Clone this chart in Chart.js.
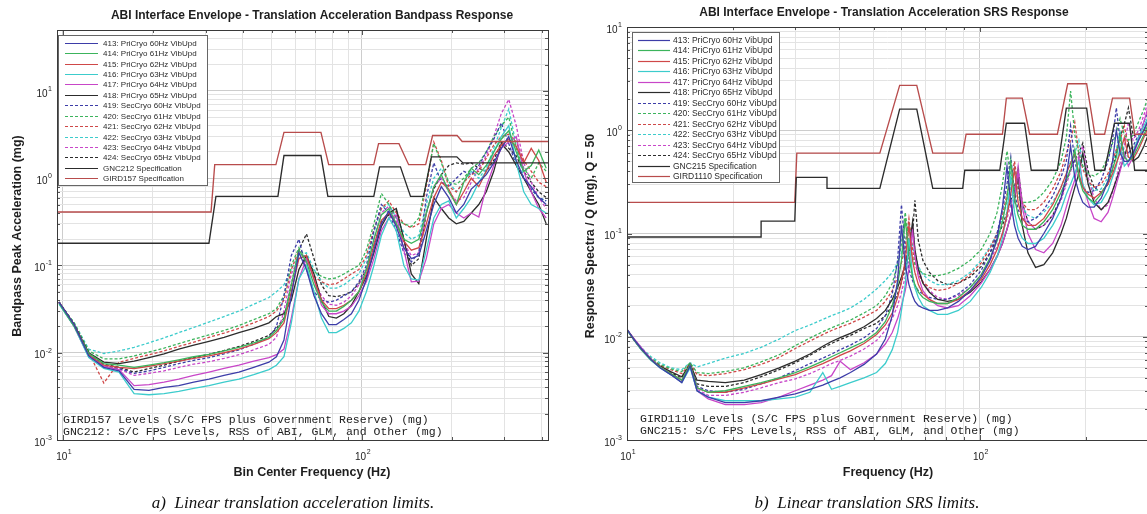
<!DOCTYPE html>
<html>
<head>
<meta charset="utf-8">
<script src="https://cdn.jsdelivr.net/npm/chart.js@4.4.1/dist/chart.umd.min.js"></script>
<style>
  html, body { margin: 0; padding: 0; background: #fff; overflow: hidden; width: 1147px; height: 514px; }
  #wrap { position: relative; width: 1147px; height: 514px; overflow: hidden; background: #fff; }
  canvas { position: absolute; top: 0; }
  #cA { left: 0; }
  #cB { left: 570px; }
  .cap { position: absolute; transform: translate(-50%, -50%); font-family: "Liberation Serif", "Times New Roman", serif;
         font-style: italic; font-size: 17px; color: #111; white-space: pre; }
</style>
</head>
<body>
<div id="wrap">
  <canvas id="cA" width="560" height="514"></canvas>
  <canvas id="cB" width="600" height="514"></canvas>
  <div class="cap" style="left:293px; top:503px;">a)  Linear translation acceleration limits.</div>
  <div class="cap" style="left:867px; top:503px;">b)  Linear translation SRS limits.</div>
</div>
<script>
// ---------- series names ----------
const seriesNames = [
  '413: PriCryo 60Hz VibUpd', '414: PriCryo 61Hz VibUpd', '415: PriCryo 62Hz VibUpd',
  '416: PriCryo 63Hz VibUpd', '417: PriCryo 64Hz VibUpd', '418: PriCryo 65Hz VibUpd',
  '419: SecCryo 60Hz VibUpd', '420: SecCryo 61Hz VibUpd', '421: SecCryo 62Hz VibUpd',
  '422: SecCryo 63Hz VibUpd', '423: SecCryo 64Hz VibUpd', '424: SecCryo 65Hz VibUpd'
];

// ---------- bandpass response (mg) at bin center frequencies (Hz) ----------
const freqBandpass = [9.7, 10.9, 12.2, 13.7, 15.4, 17.3, 19.4, 21.8, 24.4, 27.4, 30.8, 34.6, 38.8, 43.5, 48.9,
  51.8, 54.9, 58.1, 61.6, 65.3, 69.2, 73.3, 77.6, 82.2, 87.1, 92.3, 97.8, 103.6, 109.8, 116.3, 123.2, 130.5,
  138.3, 146.5, 155.2, 164.4, 174.2, 184.6, 195.5, 207.2, 219.5, 232.5, 246.4, 261.0, 276.5, 293.0, 310.4,
  328.9, 348.4, 369.1, 391.1, 414.3];

const bp413 = [0.038, 0.021, 0.0092, 0.0068, 0.0062, 0.0038, 0.0037, 0.004, 0.0042, 0.0046,
  0.005, 0.0055, 0.006, 0.0068, 0.0078, 0.009, 0.014, 0.045, 0.14, 0.09,
  0.045, 0.028, 0.021, 0.021, 0.024, 0.028, 0.04, 0.07, 0.15, 0.3,
  0.42, 0.28, 0.16, 0.12, 0.13, 0.25, 0.5, 0.8, 0.6, 0.4,
  0.5, 0.75, 0.9, 1.1, 1.5, 2.2, 3.0, 1.6, 1.0, 0.8, 0.6, 0.5];
const bp414 = [0.037, 0.02, 0.0098, 0.0075, 0.0072, 0.0068, 0.0072, 0.0077, 0.0083, 0.009,
  0.0096, 0.0105, 0.0115, 0.013, 0.015, 0.018, 0.024, 0.06, 0.15, 0.11,
  0.06, 0.038, 0.03, 0.03, 0.034, 0.04, 0.05, 0.09, 0.2, 0.38,
  0.45, 0.3, 0.2, 0.18, 0.2, 0.4, 0.8, 1.1, 0.7, 0.5,
  0.9, 1.3, 1.1, 1.4, 2.0, 2.8, 3.5, 2.0, 1.2, 1.4, 2.1, 1.3];
const bp415 = [0.038, 0.021, 0.0095, 0.0072, 0.0068, 0.0066, 0.007, 0.0075, 0.008, 0.0086,
  0.0092, 0.01, 0.011, 0.0125, 0.0145, 0.017, 0.022, 0.05, 0.12, 0.13,
  0.07, 0.04, 0.032, 0.032, 0.035, 0.04, 0.05, 0.08, 0.17, 0.33,
  0.4, 0.3, 0.19, 0.15, 0.16, 0.3, 0.6, 0.9, 0.75, 0.5,
  0.7, 1.0, 0.8, 1.2, 1.8, 2.4, 2.8, 2.3, 1.5, 2.2, 1.6, 0.9];
const bp416 = [0.036, 0.02, 0.0088, 0.0066, 0.006, 0.0034, 0.0033, 0.0034, 0.0036, 0.0039,
  0.0042, 0.0046, 0.005, 0.0056, 0.0064, 0.0072, 0.009, 0.022, 0.07, 0.1,
  0.05, 0.025, 0.017, 0.017, 0.019, 0.022, 0.03, 0.05, 0.1, 0.22,
  0.35, 0.25, 0.1, 0.07, 0.068, 0.15, 0.35, 0.5, 0.55, 0.35,
  0.45, 0.6, 0.9, 1.2, 2.0, 3.0, 4.0, 1.5, 0.7, 0.5, 0.45, 0.4];
const bp417 = [0.037, 0.02, 0.009, 0.007, 0.0064, 0.0042, 0.0043, 0.0046, 0.005, 0.0055,
  0.006, 0.0066, 0.0072, 0.008, 0.0088, 0.0095, 0.011, 0.025, 0.07, 0.12,
  0.07, 0.035, 0.028, 0.028, 0.03, 0.034, 0.045, 0.065, 0.12, 0.25,
  0.35, 0.38, 0.15, 0.065, 0.066, 0.12, 0.3, 0.45, 0.5, 0.4,
  0.35, 0.4, 0.36, 0.8, 1.4, 2.2, 2.6, 3.0, 1.2, 0.7, 0.45, 0.35];
const bp418 = [0.038, 0.021, 0.01, 0.0078, 0.0075, 0.008, 0.0088, 0.0097, 0.011, 0.0122,
  0.0135, 0.015, 0.017, 0.019, 0.022, 0.026, 0.028, 0.04, 0.09, 0.13,
  0.08, 0.04, 0.026, 0.025, 0.028, 0.035, 0.05, 0.075, 0.14, 0.28,
  0.4, 0.45, 0.2, 0.08, 0.062, 0.2, 0.6, 0.45, 0.35, 0.3,
  0.32, 0.4, 0.5, 0.7, 1.2, 2.5, 2.0, 1.4, 1.0, 0.7, 0.5, 0.3];
const bp419 = [0.038, 0.021, 0.0095, 0.0072, 0.0066, 0.0058, 0.0062, 0.0068, 0.0075, 0.0082,
  0.0088, 0.0097, 0.0108, 0.0125, 0.015, 0.02, 0.045, 0.13, 0.2, 0.09,
  0.05, 0.04, 0.038, 0.04, 0.045, 0.05, 0.065, 0.1, 0.25, 0.5,
  0.4, 0.25, 0.14, 0.11, 0.14, 0.6, 1.5, 0.9, 0.8, 1.0,
  1.2, 1.1, 1.4, 2.0, 2.8, 4.3, 2.5, 1.4, 1.0, 0.75, 0.6, 0.55];
const bp420 = [0.038, 0.022, 0.0105, 0.0085, 0.0085, 0.0092, 0.0102, 0.0113, 0.0127, 0.0143,
  0.016, 0.018, 0.0205, 0.024, 0.028, 0.032, 0.045, 0.1, 0.16, 0.12,
  0.085, 0.075, 0.07, 0.072, 0.08, 0.09, 0.1, 0.15, 0.3, 0.67,
  0.5, 0.35, 0.3, 0.28, 0.35, 0.9, 2.5, 1.5, 0.9, 0.85,
  1.0, 1.3, 1.5, 2.0, 3.0, 4.0, 5.0, 2.2, 1.3, 1.0, 1.5, 1.2];
const bp421 = [0.038, 0.021, 0.01, 0.0045, 0.0078, 0.0086, 0.0095, 0.0105, 0.0118, 0.0132,
  0.015, 0.0168, 0.019, 0.022, 0.026, 0.03, 0.04, 0.09, 0.15, 0.11,
  0.075, 0.065, 0.06, 0.062, 0.07, 0.08, 0.09, 0.13, 0.26, 0.45,
  0.55, 0.4, 0.3, 0.27, 0.3, 0.8, 2.6, 1.6, 0.8, 0.7,
  0.9, 1.1, 1.2, 1.7, 2.4, 3.0, 3.2, 2.6, 1.6, 1.2, 0.9, 0.8];
const bp422 = [0.038, 0.022, 0.011, 0.0098, 0.0105, 0.0115, 0.013, 0.0148, 0.017, 0.0195,
  0.0225, 0.026, 0.03, 0.036, 0.043, 0.05, 0.06, 0.09, 0.13, 0.14,
  0.09, 0.065, 0.055, 0.055, 0.06, 0.07, 0.08, 0.12, 0.24, 0.45,
  0.5, 0.35, 0.24, 0.2, 0.22, 0.5, 1.0, 1.3, 0.9, 0.7,
  0.9, 1.2, 1.0, 1.3, 2.2, 3.8, 6.2, 2.4, 1.0, 0.75, 0.6, 0.55];
const bp423 = [0.037, 0.02, 0.0092, 0.007, 0.0065, 0.0055, 0.0058, 0.0062, 0.0068, 0.0074,
  0.0079, 0.0086, 0.0095, 0.0108, 0.0125, 0.015, 0.03, 0.08, 0.12, 0.13,
  0.07, 0.045, 0.036, 0.035, 0.038, 0.045, 0.06, 0.09, 0.2, 0.4,
  0.48, 0.32, 0.18, 0.13, 0.14, 0.4, 0.8, 1.0, 0.7, 0.55,
  0.6, 0.9, 1.3, 1.8, 3.0, 5.5, 8.0, 4.0, 1.5, 0.9, 0.6, 0.45];
const bp424 = [0.038, 0.021, 0.0097, 0.0074, 0.0068, 0.006, 0.0066, 0.0072, 0.008, 0.0088,
  0.0096, 0.0106, 0.0118, 0.0135, 0.0158, 0.019, 0.025, 0.06, 0.15, 0.23,
  0.12, 0.06, 0.045, 0.044, 0.046, 0.05, 0.062, 0.09, 0.17, 0.32,
  0.38, 0.43, 0.2, 0.1, 0.12, 0.4, 0.75, 1.1, 1.4, 1.5,
  1.45, 1.5, 1.3, 1.2, 1.6, 2.6, 2.2, 1.8, 1.2, 0.9, 0.7, 0.6];

// bandpass specification envelopes (Hz, mg)
const gnc212Freq = [9.55, 30.8, 32.5, 52.4, 54.9, 73.0, 77.0, 109.7, 114.7, 134.7, 145.6, 161, 171, 208, 218, 420];
const gnc212Level = [0.18, 0.18, 0.62, 0.62, 1.82, 1.82, 0.62, 0.62, 1.35, 1.35, 0.62, 0.62, 1.76, 1.76, 1.5, 1.5];
const gird157Freq = [9.55, 31.3, 32.2, 51.6, 54.9, 73.0, 77.5, 109.7, 113.8, 133.2, 143.5, 163.6, 172.6, 208.5, 216.8, 420];
const gird157Level = [0.41, 0.41, 1.43, 1.43, 3.35, 3.35, 1.43, 1.43, 2.49, 2.49, 1.43, 1.43, 3.09, 3.09, 2.64, 2.64];

// ---------- shock response spectra / Q (mg), Q = 50 ----------
const freqSrs = [10, 10.5, 11, 11.7, 12.4, 13.3, 14.3, 15.1, 15.8, 17,
  19, 21.5, 24, 27, 30, 33, 35.9, 38, 40.2, 43,
  47, 51, 54, 56.5, 58.5, 60, 61.5, 63, 64.5, 65.5,
  67, 69, 72, 76, 81, 87, 94, 101, 107, 112,
  116, 119.5, 122.5, 125.5, 128.5, 132, 137, 144, 152, 161,
  170, 176, 181, 186, 191, 196, 203, 211, 221, 231,
  238, 244, 250, 257, 264, 272, 282, 292, 302];

const srs413 = [0.0118, 0.0093, 0.0076, 0.006, 0.005, 0.0043, 0.0036, 0.0052, 0.003, 0.0026,
  0.0023, 0.0023, 0.0024, 0.0026, 0.0028, 0.0031, 0.0034, 0.0037, 0.004, 0.0045,
  0.0054, 0.0068, 0.0095, 0.016, 0.035, 0.12, 0.05, 0.032, 0.025, 0.022,
  0.02, 0.019, 0.018, 0.018, 0.019, 0.022, 0.028, 0.038, 0.055, 0.09,
  0.18, 0.45, 0.2, 0.12, 0.09, 0.075, 0.07, 0.075, 0.1, 0.14,
  0.22, 0.35, 0.7, 0.35, 0.25, 0.2, 0.18, 0.18, 0.22, 0.32,
  0.5, 1.0, 0.6, 0.5, 0.5, 0.6, 0.8, 1.0, 1.3];
const srs414 = [0.0117, 0.0092, 0.0075, 0.006, 0.0051, 0.0044, 0.0038, 0.0054, 0.0032, 0.0029,
  0.003, 0.0033, 0.0036, 0.004, 0.0045, 0.0051, 0.0058, 0.0064, 0.007, 0.0078,
  0.009, 0.011, 0.014, 0.02, 0.032, 0.055, 0.14, 0.06, 0.038, 0.032,
  0.027, 0.024, 0.022, 0.021, 0.021, 0.024, 0.03, 0.04, 0.058, 0.085,
  0.13, 0.22, 0.5, 0.22, 0.15, 0.12, 0.11, 0.11, 0.13, 0.17,
  0.25, 0.33, 0.42, 0.65, 0.35, 0.26, 0.22, 0.2, 0.24, 0.32,
  0.42, 0.55, 0.9, 0.55, 0.5, 0.55, 0.7, 0.9, 1.2];
const srs415 = [0.0117, 0.0092, 0.0075, 0.006, 0.0051, 0.0044, 0.0038, 0.0053, 0.0032, 0.0029,
  0.0029, 0.0032, 0.0035, 0.0039, 0.0043, 0.0049, 0.0055, 0.006, 0.0066, 0.0073,
  0.0086, 0.0105, 0.013, 0.017, 0.024, 0.034, 0.055, 0.12, 0.055, 0.042,
  0.032, 0.026, 0.023, 0.021, 0.021, 0.023, 0.028, 0.036, 0.05, 0.07,
  0.1, 0.15, 0.24, 0.42, 0.2, 0.14, 0.12, 0.12, 0.14, 0.19,
  0.28, 0.38, 0.48, 0.6, 0.38, 0.28, 0.24, 0.22, 0.25, 0.3,
  0.38, 0.48, 0.6, 0.85, 0.55, 0.52, 0.65, 0.85, 1.1];
const srs416 = [0.0116, 0.0091, 0.0074, 0.0059, 0.005, 0.0043, 0.0036, 0.005, 0.003, 0.0026,
  0.0024, 0.0024, 0.0024, 0.0025, 0.0026, 0.0029, 0.0045, 0.0031, 0.0033, 0.0036,
  0.004, 0.0045, 0.0055, 0.0075, 0.011, 0.018, 0.032, 0.09, 0.04, 0.03,
  0.024, 0.02, 0.018, 0.0165, 0.0165, 0.018, 0.022, 0.03, 0.042, 0.06,
  0.09, 0.16, 0.35, 0.16, 0.11, 0.09, 0.08, 0.08, 0.09, 0.12,
  0.17, 0.24, 0.3, 0.38, 0.5, 0.3, 0.22, 0.19, 0.2, 0.26,
  0.35, 0.45, 0.7, 0.45, 0.5, 0.62, 0.85, 1.1, 1.4];
const srs417 = [0.0118, 0.0095, 0.0078, 0.0061, 0.0051, 0.0043, 0.0036, 0.0052, 0.003, 0.0025,
  0.0022, 0.0022, 0.0023, 0.0026, 0.003, 0.0034, 0.0038, 0.0042, 0.0058, 0.0048,
  0.0056, 0.0068, 0.0085, 0.011, 0.015, 0.02, 0.028, 0.045, 0.11, 0.06,
  0.038, 0.028, 0.023, 0.02, 0.019, 0.02, 0.025, 0.033, 0.045, 0.06,
  0.08, 0.11, 0.15, 0.22, 0.4, 0.18, 0.1, 0.07, 0.065, 0.08,
  0.12, 0.18, 0.25, 0.33, 0.55, 0.3, 0.2, 0.14, 0.13, 0.16,
  0.22, 0.3, 0.4, 0.6, 0.45, 0.55, 0.8, 1.2, 1.8];
const srs418 = [0.0117, 0.0092, 0.0075, 0.006, 0.0052, 0.0046, 0.0041, 0.0054, 0.0038, 0.0037,
  0.0036, 0.0038, 0.0043, 0.005, 0.0058, 0.0068, 0.0081, 0.009, 0.0098, 0.0108,
  0.0125, 0.015, 0.018, 0.023, 0.03, 0.038, 0.05, 0.07, 0.13, 0.07,
  0.045, 0.033, 0.027, 0.023, 0.022, 0.023, 0.027, 0.034, 0.045, 0.06,
  0.08, 0.11, 0.15, 0.21, 0.38, 0.12, 0.065, 0.047, 0.05, 0.065,
  0.1, 0.14, 0.2, 0.28, 0.38, 0.6, 0.3, 0.2, 0.17, 0.2,
  0.26, 0.33, 0.42, 0.55, 0.75, 0.5, 0.55, 0.7, 0.95];
const srs419 = [0.0117, 0.0092, 0.0075, 0.006, 0.0051, 0.0044, 0.0038, 0.0054, 0.0033, 0.003,
  0.0029, 0.0031, 0.0035, 0.004, 0.0047, 0.0055, 0.0062, 0.0068, 0.0075, 0.0083,
  0.0098, 0.012, 0.016, 0.026, 0.055, 0.19, 0.07, 0.045, 0.035, 0.031,
  0.028, 0.026, 0.024, 0.023, 0.023, 0.026, 0.032, 0.044, 0.065, 0.1,
  0.17, 0.3, 0.55, 0.25, 0.17, 0.14, 0.13, 0.14, 0.17, 0.23,
  0.35, 0.5, 1.1, 0.5, 0.35, 0.28, 0.25, 0.26, 0.33, 0.5,
  0.8, 1.65, 0.8, 0.6, 0.6, 0.7, 0.9, 1.2, 1.6];
const srs420 = [0.0117, 0.0093, 0.0076, 0.0062, 0.0054, 0.0049, 0.0046, 0.0056, 0.0045, 0.0044,
  0.0046, 0.005, 0.0057, 0.0067, 0.0082, 0.0097, 0.0112, 0.0122, 0.0132, 0.0145,
  0.017, 0.02, 0.025, 0.033, 0.05, 0.08, 0.16, 0.08, 0.058, 0.05,
  0.045, 0.041, 0.039, 0.039, 0.041, 0.046, 0.055, 0.07, 0.1, 0.16,
  0.3, 0.63, 0.35, 0.26, 0.22, 0.2, 0.2, 0.21, 0.25, 0.33,
  0.5, 0.85, 2.4, 0.9, 0.6, 0.45, 0.38, 0.36, 0.4, 0.55,
  0.75, 0.95, 1.3, 0.9, 0.8, 0.9, 1.2, 1.6, 2.2];
const srs421 = [0.0117, 0.0092, 0.0076, 0.0061, 0.0053, 0.0048, 0.0044, 0.0055, 0.0043, 0.0042,
  0.0044, 0.0048, 0.0054, 0.0063, 0.0077, 0.0091, 0.0105, 0.0115, 0.0124, 0.0135,
  0.0155, 0.018, 0.022, 0.028, 0.038, 0.052, 0.075, 0.14, 0.07, 0.052,
  0.04, 0.034, 0.03, 0.028, 0.029, 0.033, 0.04, 0.052, 0.072, 0.1,
  0.15, 0.24, 0.32, 0.5, 0.28, 0.2, 0.17, 0.17, 0.2, 0.27,
  0.4, 0.6, 0.8, 1.2, 0.6, 0.42, 0.32, 0.28, 0.3, 0.38,
  0.5, 0.65, 0.8, 1.1, 0.7, 0.65, 0.8, 1.0, 1.3];
const srs422 = [0.0118, 0.0094, 0.0078, 0.0064, 0.0056, 0.005, 0.0048, 0.0056, 0.0051, 0.0055,
  0.0062, 0.0069, 0.0079, 0.0095, 0.0115, 0.013, 0.0147, 0.016, 0.0172, 0.019,
  0.023, 0.029, 0.035, 0.042, 0.052, 0.065, 0.085, 0.13, 0.075, 0.06,
  0.048, 0.04, 0.035, 0.032, 0.032, 0.035, 0.042, 0.055, 0.075, 0.1,
  0.14, 0.2, 0.28, 0.45, 0.25, 0.18, 0.15, 0.14, 0.16, 0.2,
  0.28, 0.38, 0.5, 0.6, 0.8, 0.45, 0.32, 0.26, 0.27, 0.35,
  0.48, 0.65, 1.0, 0.6, 0.55, 0.6, 0.8, 1.0, 1.35];
const srs423 = [0.0118, 0.0094, 0.0077, 0.0061, 0.0052, 0.0044, 0.0037, 0.0053, 0.0031, 0.0027,
  0.0027, 0.0029, 0.0032, 0.0036, 0.0039, 0.0044, 0.005, 0.0055, 0.0059, 0.0065,
  0.0076, 0.0092, 0.0115, 0.015, 0.02, 0.027, 0.038, 0.058, 0.12, 0.07,
  0.045, 0.034, 0.028, 0.024, 0.023, 0.025, 0.03, 0.04, 0.055, 0.075,
  0.1, 0.14, 0.19, 0.26, 0.45, 0.2, 0.13, 0.11, 0.12, 0.15,
  0.21, 0.3, 0.4, 0.5, 0.55, 0.7, 0.35, 0.22, 0.17, 0.19,
  0.25, 0.35, 0.48, 0.7, 1.2, 0.8, 1.0, 1.4, 2.0];
const srs424 = [0.0117, 0.0092, 0.0075, 0.006, 0.0052, 0.0045, 0.004, 0.0054, 0.0035, 0.0033,
  0.0033, 0.0036, 0.0041, 0.0048, 0.0056, 0.0066, 0.0078, 0.0086, 0.0094, 0.0103,
  0.012, 0.0135, 0.016, 0.02, 0.026, 0.034, 0.045, 0.065, 0.1, 0.21,
  0.085, 0.055, 0.042, 0.035, 0.032, 0.033, 0.038, 0.048, 0.065, 0.09,
  0.12, 0.16, 0.21, 0.28, 0.42, 0.2, 0.13, 0.11, 0.12, 0.15,
  0.22, 0.32, 0.42, 0.52, 0.6, 0.75, 0.4, 0.28, 0.25, 0.3,
  0.42, 0.6, 0.85, 1.15, 1.65, 0.9, 0.85, 1.0, 1.3];

// SRS specification envelopes (Hz, mg)
const gnc215Freq = [10, 24.0, 24.0, 29.9, 30.2, 36.9, 36.9, 52.1, 59.3, 66.3, 73.6, 89.5, 90.7, 114, 119, 134,
  140, 166, 176, 201, 212, 226, 241, 266, 275, 300];
const gnc215Level = [0.0925, 0.0925, 0.1316, 0.1316, 0.35, 0.35, 0.274, 0.274, 1.6, 1.6, 0.274, 0.274, 0.41, 0.41,
  1.17, 1.17, 0.41, 0.41, 1.64, 1.64, 0.41, 0.41, 1.17, 1.17, 0.41, 0.41];
const gird1110Freq = [10, 29.9, 30.3, 52.1, 59.3, 66.3, 73.6, 89.5, 91.5, 116, 119, 132, 138.5, 166, 177.6, 201,
  212, 226, 238, 266, 275, 300];
const gird1110Level = [0.2, 0.2, 0.6, 0.6, 2.72, 2.72, 0.6, 0.6, 0.915, 0.915, 2.05, 2.05, 0.915, 0.915, 2.82, 2.82,
  0.915, 0.915, 2.05, 2.05, 0.915, 0.915];

// decade tick labels
const xDecades = [10, 100];
const yDecadesA = [0.001, 0.01, 0.1, 1, 10];
const yDecadesB = [0.001, 0.01, 0.1, 1, 10];

// ---------- styling ----------
const palette = ['#3d3da8', '#3cb45c', '#cf4848', '#3ccccc', '#c846c8', '#2c2c2c'];
const SANS = '"Liberation Sans", Arial, Helvetica, sans-serif';
const MONO = '"Liberation Mono", "Courier New", monospace';

function isDecade(v) {
  const l = Math.log10(v);
  return Math.abs(l - Math.round(l)) < 1e-9;
}
function logTicks(min, max) {
  const out = [];
  for (let e = Math.floor(Math.log10(min)); e <= Math.ceil(Math.log10(max)); e++) {
    for (let m = 1; m <= 9; m++) {
      const v = +(m * Math.pow(10, e)).toPrecision(6);
      if (v >= min * 0.9999 && v <= max * 1.0001) out.push(v);
    }
  }
  return out;
}
function toPoints(xs, ys) { return xs.map((x, i) => ({ x: x, y: ys[i] })); }

function buildPanel(freq, seriesList, specs) {
  const datasets = [];
  const legend = [];
  specs.forEach(s => {
    datasets.push({ label: s.name, data: toPoints(s.f, s.v), borderColor: s.color, borderWidth: 1.35,
      pointRadius: 0, fill: false, tension: 0 });
  });
  seriesList.forEach((vals, i) => {
    const dash = i >= 6 ? [3, 2] : [];
    datasets.push({ label: seriesNames[i], data: toPoints(freq, vals), borderColor: palette[i % 6],
      borderDash: dash, borderWidth: 1.3, pointRadius: 0, fill: false, tension: 0 });
    legend.push({ label: seriesNames[i], color: palette[i % 6], dash: dash });
  });
  specs.forEach(s => legend.push({ label: s.name, color: s.color, dash: [] }));
  return { datasets, legend };
}

function powerLabel(ctx, v, x, y, align) {
  const base = '10', exp = String(Math.round(Math.log10(v)));
  ctx.font = '10px ' + SANS;
  const wb = ctx.measureText(base).width;
  ctx.font = '7px ' + SANS;
  const we = ctx.measureText(exp).width;
  const total = wb + we + 0.5;
  const x0 = align === 'right' ? x - total : x - total / 2;
  ctx.textAlign = 'left';
  ctx.textBaseline = 'middle';
  ctx.font = '10px ' + SANS;
  ctx.fillText(base, x0, y);
  ctx.font = '7px ' + SANS;
  ctx.fillText(exp, x0 + wb + 0.5, y - 5);
}

function framePlugin(cfg) {
  return {
    id: 'frame',
    afterDraw(chart) {
      const ctx = chart.ctx, a = chart.chartArea;
      const xs = chart.scales.x, ys = chart.scales.y;
      ctx.save();
      // inward tick marks on all four sides
      ctx.strokeStyle = '#555';
      ctx.lineWidth = 1;
      ctx.beginPath();
      xs.ticks.forEach(t => {
        const p = Math.round(xs.getPixelForValue(t.value)) + 0.5;
        const L = isDecade(t.value) ? 5 : 3;
        ctx.moveTo(p, a.bottom); ctx.lineTo(p, a.bottom - L);
        ctx.moveTo(p, a.top); ctx.lineTo(p, a.top + L);
      });
      ys.ticks.forEach(t => {
        const p = Math.round(ys.getPixelForValue(t.value)) + 0.5;
        const L = isDecade(t.value) ? 5 : 3;
        ctx.moveTo(a.left, p); ctx.lineTo(a.left + L, p);
        ctx.moveTo(a.right, p); ctx.lineTo(a.right - L, p);
      });
      ctx.stroke();
      // axes box
      ctx.strokeStyle = '#3a3a3a';
      const l = Math.round(a.left) + 0.5, t = Math.round(a.top) + 0.5;
      ctx.strokeRect(l, t, Math.round(a.right) - Math.round(a.left), Math.round(a.bottom) - Math.round(a.top));

      // decade tick labels
      ctx.fillStyle = '#222';
      cfg.xDecades.forEach(v => powerLabel(ctx, v, xs.getPixelForValue(v) + 1, a.bottom + 17, 'center'));
      cfg.yDecades.forEach(v => powerLabel(ctx, v, a.left - 5, ys.getPixelForValue(v) + 3, 'right'));

      // titles
      ctx.fillStyle = '#1e1e1e';
      ctx.textAlign = 'center';
      ctx.textBaseline = 'middle';
      ctx.font = 'bold 12px ' + SANS;
      ctx.fillText(cfg.title, cfg.titleX, cfg.titleY);
      ctx.font = 'bold 12.5px ' + SANS;
      ctx.fillText(cfg.xTitle, cfg.xTitleX, cfg.xTitleY);
      ctx.save();
      ctx.translate(cfg.yTitleX, cfg.yTitleY);
      ctx.rotate(-Math.PI / 2);
      ctx.fillText(cfg.yTitle, 0, 0);
      ctx.restore();

      // level notes inside the axes
      ctx.font = '11.5px ' + MONO;
      ctx.textAlign = 'left';
      ctx.fillStyle = '#222';
      cfg.notes.forEach((s, i) => ctx.fillText(s, cfg.noteX, cfg.noteY + i * 11.5));

      // legend
      const L = cfg.legendBox;
      ctx.fillStyle = '#fff';
      ctx.fillRect(L.x, L.y, L.w, L.h);
      ctx.strokeStyle = '#666';
      ctx.lineWidth = 1;
      ctx.strokeRect(L.x + 0.5, L.y + 0.5, L.w, L.h);
      ctx.font = L.font;
      ctx.textAlign = 'left';
      ctx.textBaseline = 'middle';
      cfg.legend.forEach((e, i) => {
        const yy = Math.round(L.row0 + i * L.step) + 0.5;
        ctx.strokeStyle = e.color;
        ctx.lineWidth = 1.2;
        ctx.setLineDash(e.dash);
        ctx.beginPath();
        ctx.moveTo(L.lx0, yy); ctx.lineTo(L.lx1, yy);
        ctx.stroke();
        ctx.setLineDash([]);
        ctx.fillStyle = '#2a2a2a';
        ctx.fillText(e.label, L.tx, yy);
      });
      ctx.restore();
    }
  };
}

function makeChart(canvasId, panel, cfg) {
  const gridColor = c => (c.tick && isDecade(c.tick.value)) ? '#cdcdcd' : '#e3e3e3';
  const xT = logTicks(cfg.xMin, cfg.xMax), yT = logTicks(cfg.yMin, cfg.yMax);
  return new Chart(document.getElementById(canvasId), {
    type: 'line',
    data: { datasets: panel.datasets },
    options: {
      responsive: false,
      animation: false,
      devicePixelRatio: 1,
      events: [],
      layout: { padding: cfg.pad },
      plugins: { legend: { display: false }, tooltip: { enabled: false }, title: { display: false } },
      elements: { point: { radius: 0 }, line: { tension: 0 } },
      scales: {
        x: {
          type: 'logarithmic', min: cfg.xMin, max: cfg.xMax,
          afterBuildTicks: s => { s.ticks = xT.map(v => ({ value: v })); },
          ticks: { display: false, autoSkip: false },
          grid: { color: gridColor, lineWidth: 1, drawTicks: false },
          border: { display: false }
        },
        y: {
          type: 'logarithmic', min: cfg.yMin, max: cfg.yMax,
          afterBuildTicks: s => { s.ticks = yT.map(v => ({ value: v })); },
          ticks: { display: false, autoSkip: false },
          grid: { color: gridColor, lineWidth: 1, drawTicks: false },
          border: { display: false }
        }
      }
    },
    plugins: [framePlugin(cfg)]
  });
}

// ---------- left panel: bandpass ----------
const panelA = buildPanel(freqBandpass,
  [bp413, bp414, bp415, bp416, bp417, bp418, bp419, bp420, bp421, bp422, bp423, bp424],
  [{ name: 'GNC212 Specification', f: gnc212Freq, v: gnc212Level, color: '#2c2c2c' },
   { name: 'GIRD157 Specification', f: gird157Freq, v: gird157Level, color: '#b84c4c' }]);

makeChart('cA', panelA, {
  pad: { left: 57, top: 30, right: 12, bottom: 74 },
  xMin: 9.55, xMax: 420, yMin: 0.001, yMax: 50,
  xDecades: xDecades, yDecades: yDecadesA,
  title: 'ABI Interface Envelope - Translation Acceleration Bandpass Response', titleX: 312, titleY: 16,
  xTitle: 'Bin Center Frequency (Hz)', xTitleX: 312, xTitleY: 473,
  yTitle: 'Bandpass Peak Acceleration (mg)', yTitleX: 18, yTitleY: 236,
  notes: ['GIRD157 Levels (S/C FPS plus Government Reserve) (mg)',
          'GNC212: S/C FPS Levels, RSS of ABI, GLM, and Other (mg)'],
  noteX: 63, noteY: 420,
  legend: panelA.legend,
  legendBox: { x: 58, y: 35, w: 149, h: 150, row0: 42.7, step: 10.43, lx0: 65, lx1: 98, tx: 103,
               font: '8px ' + SANS }
});

// ---------- right panel: SRS ----------
const panelB = buildPanel(freqSrs,
  [srs413, srs414, srs415, srs416, srs417, srs418, srs419, srs420, srs421, srs422, srs423, srs424],
  [{ name: 'GNC215 Specification', f: gnc215Freq, v: gnc215Level, color: '#2c2c2c' },
   { name: 'GIRD1110 Specification', f: gird1110Freq, v: gird1110Level, color: '#b84c4c' }]);

makeChart('cB', panelB, {
  pad: { left: 57, top: 27, right: 22, bottom: 74 },
  xMin: 10, xMax: 300, yMin: 0.001, yMax: 10,
  xDecades: xDecades, yDecades: yDecadesB,
  title: 'ABI Interface Envelope - Translation Acceleration SRS Response', titleX: 314, titleY: 13,
  xTitle: 'Frequency (Hz)', xTitleX: 318, xTitleY: 473,
  yTitle: 'Response Spectra / Q (mg), Q = 50', yTitleX: 21, yTitleY: 236,
  notes: ['GIRD1110 Levels (S/C FPS plus Government Reserve) (mg)',
          'GNC215: S/C FPS Levels, RSS of ABI, GLM, and Other (mg)'],
  noteX: 70, noteY: 419,
  legend: panelB.legend,
  legendBox: { x: 62, y: 32, w: 147, h: 150, row0: 39.5, step: 10.5, lx0: 68, lx1: 100, tx: 103,
               font: '8.5px ' + SANS }
});
</script>
</body>
</html>
